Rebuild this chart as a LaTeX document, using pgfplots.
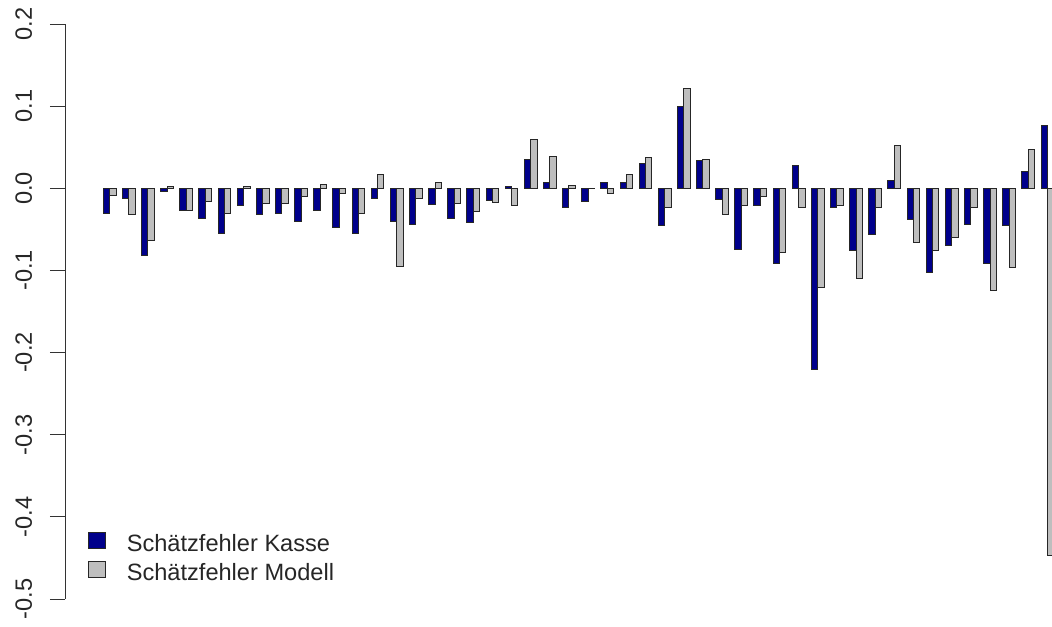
\documentclass[border=0pt]{standalone}
\usepackage{fontspec}
\setmainfont{Liberation Sans}
\usepackage{pgfplots}
\usepackage{pgfplotstable}
\pgfplotsset{compat=1.18}

\definecolor{kassecol}{RGB}{0,0,139}
\definecolor{modellcol}{RGB}{190,190,190}

% group index, error of the cash-register estimate, error of the model estimate
\pgfplotstableread{
g kasse modell
0 -0.0304 -0.0082
1 -0.0122 -0.0325
2 -0.0820 -0.0640
3 -0.0045 0.0020
4 -0.0270 -0.0270
5 -0.0365 -0.0163
6 -0.0556 -0.0304
7 -0.0210 0.0020
8 -0.0325 -0.0180
9 -0.0304 -0.0180
10 -0.0406 -0.0094
11 -0.0272 0.0052
12 -0.0480 -0.0060
13 -0.0556 -0.0304
14 -0.0122 0.0162
15 -0.0406 -0.0954
16 -0.0438 -0.0122
17 -0.0195 0.0068
18 -0.0365 -0.0180
19 -0.0414 -0.0285
20 -0.0151 -0.0175
21 0.0020 -0.0215
22 0.0353 0.0597
23 0.0073 0.0393
24 -0.0236 0.0032
25 -0.0155 0.0003
26 0.0073 -0.0061
27 0.0073 0.0170
28 0.0304 0.0373
29 -0.0459 -0.0231
30 0.0994 0.1217
31 0.0336 0.0353
32 -0.0142 -0.0313
33 -0.0743 -0.0215
34 -0.0215 -0.0094
35 -0.0913 -0.0780
36 0.0276 -0.0232
37 -0.2204 -0.1210
38 -0.0232 -0.0215
39 -0.0763 -0.1096
40 -0.0568 -0.0232
41 0.0093 0.0520
42 -0.0378 -0.0662
43 -0.1023 -0.0760
44 -0.0702 -0.0601
45 -0.0438 -0.0232
46 -0.0913 -0.1247
47 -0.0459 -0.0966
48 0.0203 0.0478
49 0.0762 -0.4468
}\errdata

\begin{document}
\begin{tikzpicture}
\useasboundingbox (0,0) rectangle (526pt,313pt);
\begin{axis}[
  at={(32.5pt,13.5pt)}, anchor=south west,
  scale only axis,
  width=494.4pt, height=287.5pt,
  xmin=-5, xmax=150,
  ymin=-0.5, ymax=0.2,
  clip=false,
  hide x axis,
  axis y line*=left,
  axis line style={black!80, line width=0.5pt},
  ytick={-0.5,-0.4,-0.3,-0.2,-0.1,0,0.1,0.2},
  yticklabels={-0.5,-0.4,-0.3,-0.2,-0.1,0.0,0.1,0.2},
  tick align=outside,
  major tick length=7.5pt,
  tick style={black!80, line width=0.5pt},
  yticklabel style={xshift=-9pt, rotate=90, anchor=base,
    font=\fontsize{11.8}{14}\selectfont, text=black!85},
  legend cell align=left,
  legend image code/.code={\draw[#1] (0pt,-2pt) rectangle (8.5pt,6pt);},
  legend style={at={(axis cs:-1.395,-0.4184)}, anchor=north west,
    draw=none, fill=none, inner sep=0pt, outer sep=0pt,
    row sep=3pt, column sep=10.4pt,
    nodes={inner sep=0pt, text=black!85},
    font=\fontsize{11.8}{14}\selectfont},
]
\addplot[ybar, bar width=1, bar shift=0, fill=kassecol, draw=black!85, line width=0.5pt]
  table[x expr=3*\thisrow{g}+1.5, y=kasse] {\errdata};
\addlegendentry{Schätzfehler Kasse}
\addplot[ybar, bar width=1, bar shift=0, fill=modellcol, draw=black!85, line width=0.5pt]
  table[x expr=3*\thisrow{g}+2.5, y=modell] {\errdata};
\addlegendentry{Schätzfehler Modell}
\end{axis}
\end{tikzpicture}
\end{document}
